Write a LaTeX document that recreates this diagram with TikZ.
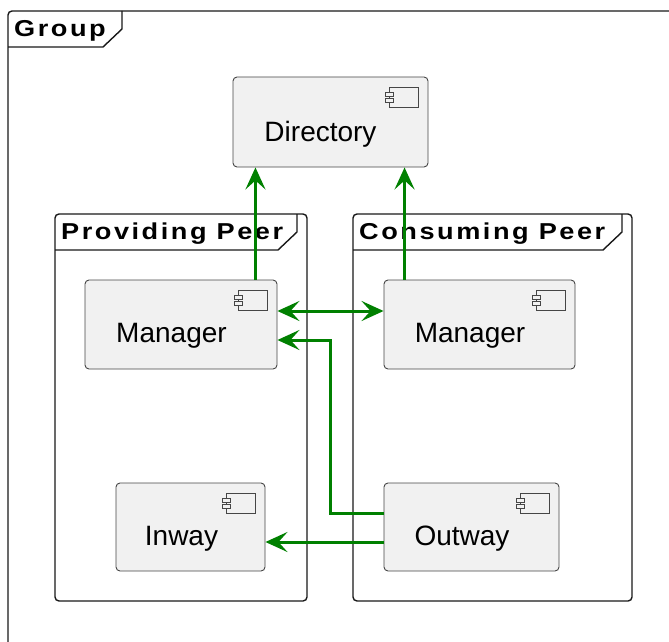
\documentclass[tikz,border=0pt]{standalone}
\usepackage{fontspec}
\setmainfont{Liberation Sans}
\newfontfamily\titlefont{Liberation Sans}[FakeStretch=1.18,LetterSpace=11]
\usetikzlibrary{arrows.meta}
\definecolor{umlgreen}{HTML}{008000}
\definecolor{umlfill}{HTML}{F1F1F1}
\definecolor{umlline}{HTML}{181818}
\begin{document}
\begin{tikzpicture}[x=1bp,y=-1bp,
    frame/.style={draw=umlline,line width=1.4bp,rounded corners=4bp},
    title/.style={font=\titlefont\bfseries\fontsize{23bp}{27bp}\selectfont,inner sep=0pt,anchor=base west},
    comp/.style={draw=umlline!80,fill=umlfill,line width=0.9bp,rounded corners=4bp,
      minimum width=#1,
      path picture={
        \coordinate (ne) at (path picture bounding box.north east);
        \draw[sharp corners,line width=0.8bp,draw=umlline!80,fill=umlfill]
          ([xshift=-39bp,yshift=-10bp]ne) rectangle ++(29bp,-20bp);
        \foreach \dy in {15,21}
          \draw[sharp corners,line width=0.8bp,draw=umlline!80,fill=umlfill]
            ([xshift=-43bp,yshift=-\dy bp]ne) rectangle ++(8bp,-4bp);
      }},
    comptext/.style={font=\fontsize{28bp}{32bp}\selectfont,inner sep=0pt},
    tip/.tip={Stealth[length=22bp,width=20bp,inset=9bp]},
    flow/.style={draw=umlgreen,line width=3bp,-tip},
    flowboth/.style={flow,tip-tip}]
  \useasboundingbox (0,0) rectangle (669,642);
  \clip (0,0) rectangle (669,642);
  % frames with their name tabs
  \foreach \fx/\fy/\fr/\fb/\tr/\ttl/\nm in {8/11/720/700/122/Group/grp,
      55/214/307/601/297/Providing Peer/prov, 353/214/632/601/622/Consuming Peer/cons} {
    \draw[frame] (\fx,\fy) rectangle (\fr,\fb);
    \draw[frame,sharp corners] (\fx,\fy+36) -- (\tr-19,\fy+36) -- (\tr,\fy+18) -- (\tr,\fy);
    \node[title] (\nm) at (\fx+6,\fy+25.5) {\ttl};
  }
  % components
  \node[comp=195bp,minimum height=90bp] (dir) at (330.5,122) {};
  \node[comp=192bp,minimum height=89bp] (pman) at (181,324.5) {};
  \node[comp=191bp,minimum height=89bp] (cman) at (479.5,324.5) {};
  \node[comp=149bp,minimum height=88bp] (iway) at (190.5,527) {};
  \node[comp=175bp,minimum height=88bp] (oway) at (471.5,527) {};
  \node[comptext] (dirtxt) at (320.5,134) {Directory};
  \node[comptext] (pmantxt) at (171.5,336) {Manager};
  \node[comptext] (cmantxt) at (470,336) {Manager};
  \node[comptext] (iwaytxt) at (181.5,539) {Inway};
  \node[comptext] (owaytxt) at (462,539) {Outway};
  % connectors
  \draw[flow] ([xshift=-22bp]pman.north east) -- ([xshift=-22bp]pman.north east |- dir.south);
  \draw[flow] ([xshift=21bp]cman.north west) -- ([xshift=21bp]cman.north west |- dir.south);
  \draw[flowboth] ([yshift=13.5bp]pman.east) -- ([yshift=13.5bp]pman.east -| cman.west);
  \draw[flow] ([yshift=14bp]oway.west) -| ([xshift=53bp,yshift=-15.5bp]pman.east) -- ([yshift=-15.5bp]pman.east);
  \draw[flow] ([yshift=-15bp]oway.west) -- ([yshift=-15bp]oway.west -| iway.east);
\end{tikzpicture}
\end{document}
